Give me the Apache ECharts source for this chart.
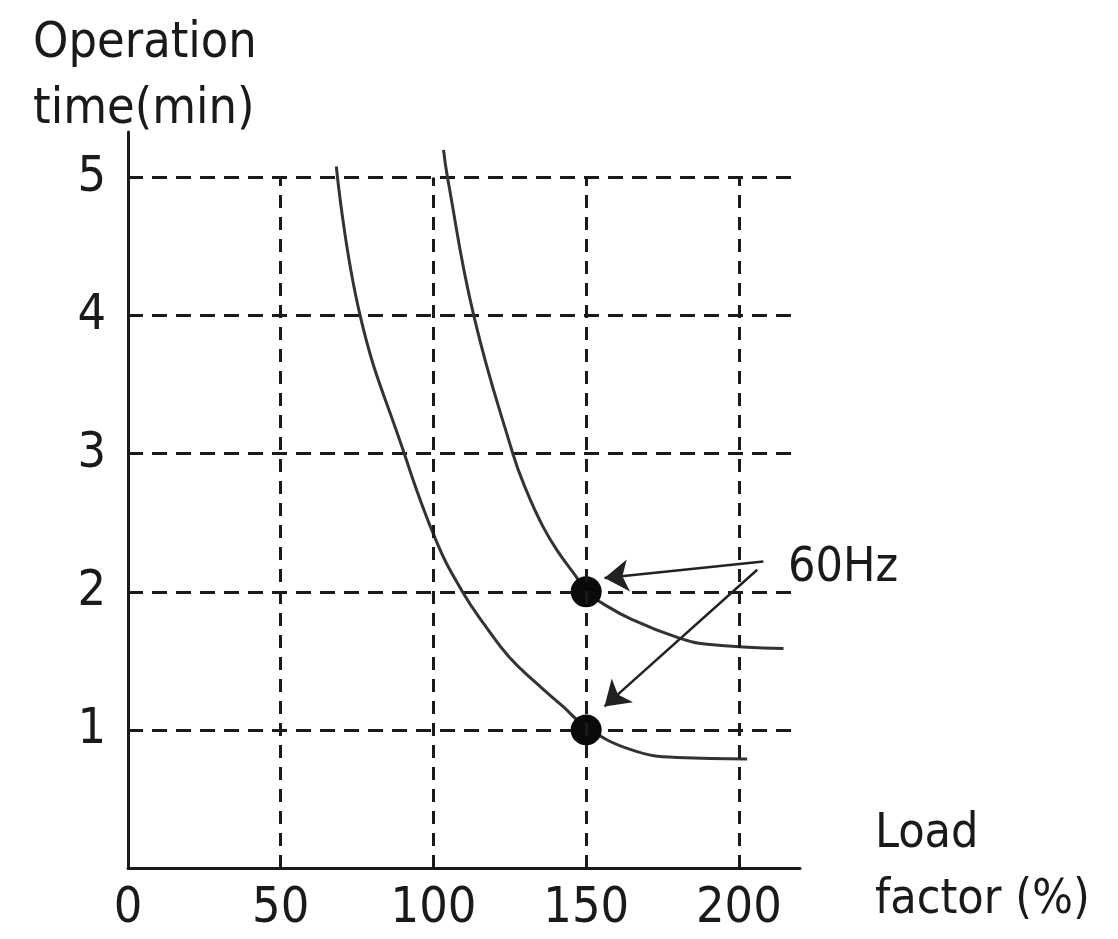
<!DOCTYPE html>
<html>
<head>
<meta charset="utf-8">
<title>Operation time vs load factor</title>
<script src="https://cdn.jsdelivr.net/npm/echarts@6/dist/echarts.min.js"></script>
<style>
  html, body { margin: 0; padding: 0; background: #ffffff; }
  #chart { width: 1118px; height: 939px; }
</style>
</head>
<body>
<div id="chart"></div>
<script>
// load factor (%) / operation time (min)
var lowerCurve = [
  [68.2, 5.08], [76.0, 4.0], [90.0, 3.03], [100.7, 2.38], [109.5, 2.0],
  [117.1, 1.75], [124.7, 1.53], [133.6, 1.34], [142.4, 1.17], [150, 1.02],
  [164.9, 0.855], [179.8, 0.80], [202.7, 0.79]
];
var upperCurve = [
  [103.3, 5.2], [104.6, 5.0], [113.2, 4.0], [126.0, 3.0],
  [130.3, 2.74], [135.9, 2.47], [141.1, 2.28], [146.7, 2.11], [150, 2.0],
  [155.1, 1.92], [164.9, 1.80], [179.8, 1.67], [189.6, 1.62], [214.6, 1.59]
];
var dots = [[150, 2], [150, 1]];
var xTicks = [50, 100, 150, 200];
// arrows from the 60Hz label to the dots: [start, tip]
var arrows = [
  [[208, 2.22], [156, 2.10]],
  [[206, 2.16], [156, 1.17]]
];

var FONT = '"Liberation Sans Narrow", "DejaVu Sans Condensed", "Liberation Sans", sans-serif';
var INK = '#1a1a1a';

var chart = echarts.init(document.getElementById('chart'));

// vertical dashed grid lines only up to 5 min
var vLines = xTicks.map(function (x) {
  return [{ coord: [x, 0] }, { coord: [x, 5] }];
});
var arrowLines = arrows.map(function (a) {
  return [{ coord: a[0] }, { coord: a[1] }];
});

chart.setOption({
  animation: false,
  title: {
    text: 'Operation\ntime(min)',
    left: 28,
    top: 6,
    textStyle: {
      fontFamily: FONT,
      fontWeight: 'normal',
      fontSize: 50,
      lineHeight: 66,
      color: INK
    }
  },
  grid: {
    left: 128,
    right: 318,
    top: 132,
    bottom: 71,
    containLabel: false
  },
  xAxis: {
    type: 'value',
    min: 0,
    max: 220,
    interval: 50,
    name: 'Load\nfactor (%)',
    nameLocation: 'end',
    nameGap: 75,
    nameTextStyle: {
      fontFamily: FONT,
      fontSize: 48,
      lineHeight: 66,
      color: INK,
      align: 'left',
      verticalAlign: 'middle'
    },
    axisLine: { show: true, lineStyle: { color: INK, width: 3 } },
    axisTick: { show: false },
    splitLine: { show: false },
    axisLabel: {
      fontFamily: FONT,
      fontSize: 50,
      color: INK,
      margin: 16,
      showMaxLabel: false
    }
  },
  yAxis: {
    type: 'value',
    min: 0,
    max: 5.33,
    interval: 1,
    axisLine: { show: true, lineStyle: { color: INK, width: 3 } },
    axisTick: { show: false },
    axisLabel: {
      fontFamily: FONT,
      fontSize: 50,
      color: INK,
      margin: 22,
      showMinLabel: false,
      showMaxLabel: false
    },
    splitLine: {
      show: true,
      showMinLine: false,
      showMaxLine: false,
      lineStyle: { color: INK, width: 3, type: [15, 9] }
    }
  },
  series: [
    {
      name: 'lower',
      type: 'line',
      data: lowerCurve,
      smooth: 0.45,
      showSymbol: false,
      lineStyle: { color: '#333333', width: 3 },
      markLine: {
        silent: true,
        symbol: ['none', 'none'],
        label: { show: false },
        lineStyle: { color: INK, width: 3, type: [13, 9] },
        data: vLines
      },
      z: 3
    },
    {
      name: 'upper',
      type: 'line',
      data: upperCurve,
      smooth: 0.45,
      showSymbol: false,
      lineStyle: { color: '#333333', width: 3 },
      markLine: {
        silent: true,
        symbol: ['none', 'arrow'],
        symbolSize: 24,
        label: { show: false },
        lineStyle: { color: '#222222', width: 2.5, type: 'solid' },
        data: arrowLines
      },
      z: 3
    },
    {
      name: 'points',
      type: 'scatter',
      data: dots,
      symbol: 'circle',
      symbolSize: 31,
      itemStyle: { color: '#0a0a0a', opacity: 1 },
      z: 4
    }
  ],
  graphic: [{
    type: 'text',
    left: 788,
    top: 545,
    style: {
      text: '60Hz',
      fontFamily: FONT,
      fontSize: 48,
      fill: INK
    }
  }]
});
</script>
</body>
</html>
